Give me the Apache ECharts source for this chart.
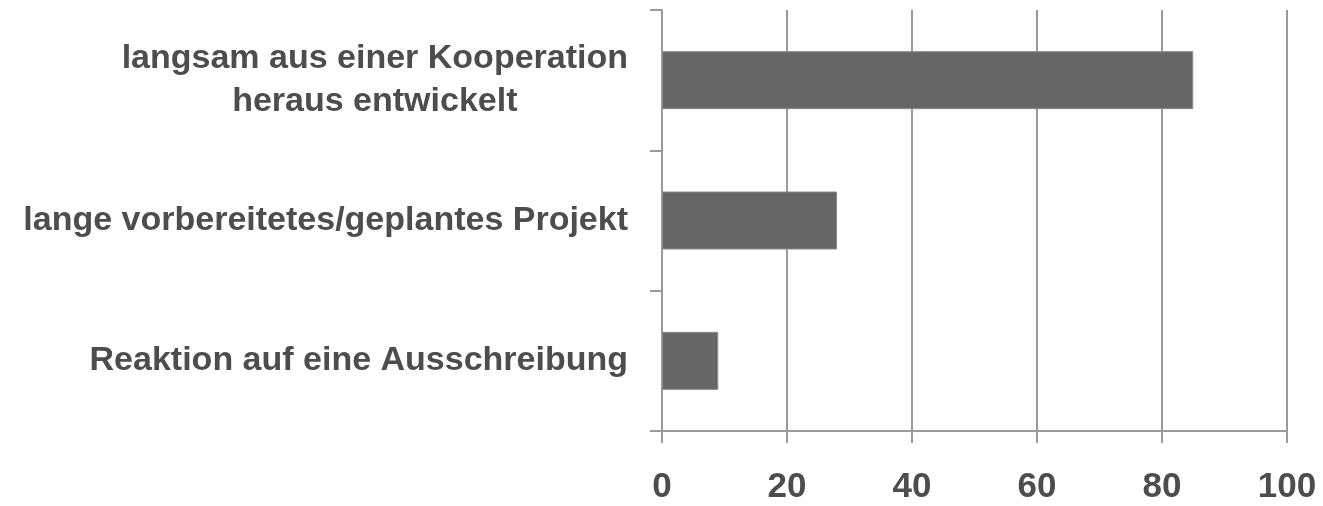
<!DOCTYPE html>
<html>
<head>
<meta charset="utf-8">
<script src="https://cdn.jsdelivr.net/npm/echarts@6/dist/echarts.min.js"></script>
<style>
  html, body { margin: 0; padding: 0; background: #ffffff; }
  #chart { width: 1323px; height: 506px; }
</style>
</head>
<body>
<div id="chart"></div>
<script>
// Wie ist das Projekt entstanden? (Anzahl Nennungen)
const categories = [
  'langsam aus einer Kooperation\nheraus entwickelt',
  'lange vorbereitetes/geplantes Projekt',
  'Reaktion auf eine Ausschreibung'
];
const values = [85, 28, 9];
const xTicks = [0, 20, 40, 60, 80, 100];

const textColor = '#4d4d4d';
const lineColor = '#9a9a9a';
const font = '"Liberation Sans", Arial, Helvetica, sans-serif';

const chart = echarts.init(document.getElementById('chart'), null, { renderer: 'canvas' });

chart.setOption({
  backgroundColor: '#ffffff',
  animation: false,
  grid: { left: 662, right: 36, top: 10, bottom: 75, containLabel: false },
  xAxis: {
    type: 'value',
    min: xTicks[0],
    max: xTicks[xTicks.length - 1],
    interval: xTicks[1] - xTicks[0],
    axisLine: { show: true, lineStyle: { color: lineColor, width: 2 } },
    axisTick: { show: true, length: 12, lineStyle: { color: lineColor, width: 2 } },
    splitLine: { show: true, lineStyle: { color: lineColor, width: 2 } },
    axisLabel: {
      color: textColor,
      fontFamily: font,
      fontWeight: 'bold',
      fontSize: 35,
      margin: 39
    }
  },
  yAxis: {
    type: 'category',
    data: categories,
    inverse: true,
    axisLine: { show: true, lineStyle: { color: lineColor, width: 2 } },
    axisTick: { show: true, length: 12, lineStyle: { color: lineColor, width: 2 } },
    splitLine: { show: false },
    axisLabel: {
      color: textColor,
      fontFamily: font,
      fontWeight: 'bold',
      fontSize: 34,
      margin: 34,
      lineHeight: 43,
      formatter: function (v) {
        return v.split('\n').map(function (l) { return '{c|' + l + '}'; }).join('\n');
      },
      rich: {
        c: {
          color: textColor,
          fontFamily: font,
          fontWeight: 'bold',
          fontSize: 34,
          lineHeight: 43,
          align: 'center'
        }
      }
    }
  },
  series: [{
    type: 'bar',
    data: values,
    barWidth: 58,
    itemStyle: { color: '#666666', borderColor: '#8a8a8a', borderWidth: 1 },
    silent: true
  }]
});
</script>
</body>
</html>
